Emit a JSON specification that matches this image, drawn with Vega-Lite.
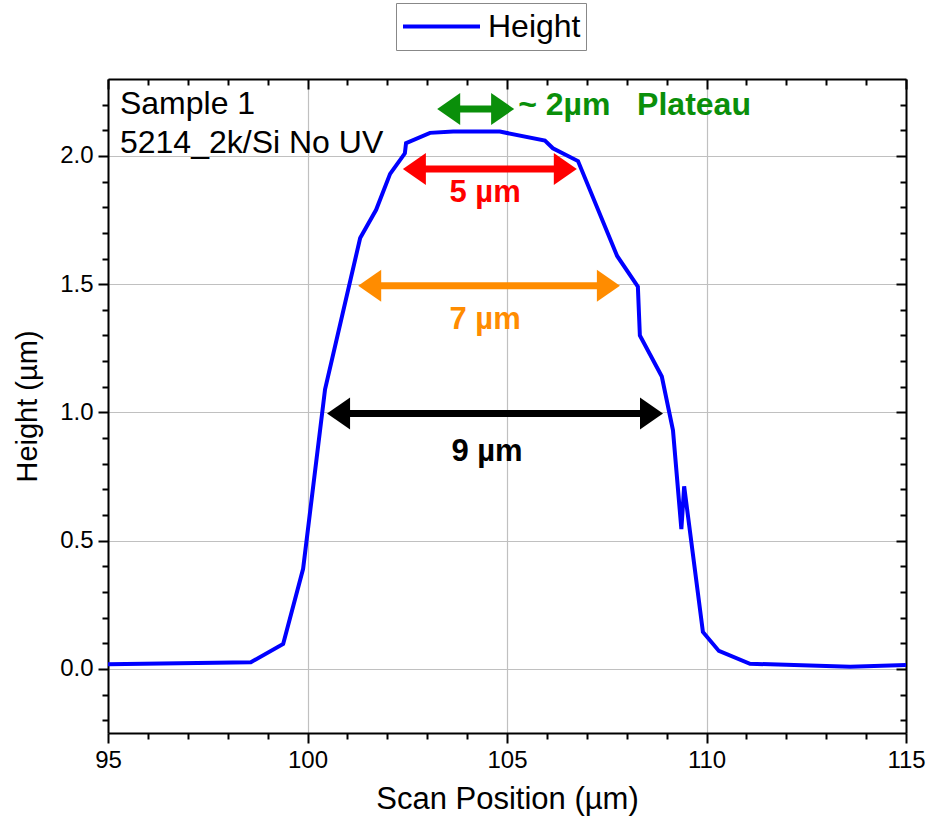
{
  "$schema": "https://vega.github.io/schema/vega-lite/v6.json",
  "width": 798,
  "height": 654,
  "autosize": {"type": "none"},
  "padding": {"left": 108, "top": 79, "right": 27, "bottom": 93},
  "config": {
    "view": {"stroke": null},
    "font": "Liberation Sans",
    "axis": {
      "domainColor": "black", "domainWidth": 2, "tickColor": "black", "tickWidth": 2,
      "labelColor": "black", "titleColor": "black", "labelFont": "Liberation Sans", "titleFont": "Liberation Sans",
      "gridColor": "#c0c0c0", "gridWidth": 1.2, "gridOpacity": 1, "labelFlush": false, "labelOverlap": false
    }
  },
  "datasets": {
    "curve": [
      {"i": 1, "x": 95, "y": 0.018, "series": "Height"},
      {"i": 2, "x": 98.58, "y": 0.026, "series": "Height"},
      {"i": 3, "x": 99.39, "y": 0.097, "series": "Height"},
      {"i": 4, "x": 99.89, "y": 0.39, "series": "Height"},
      {"i": 5, "x": 100.44, "y": 1.09, "series": "Height"},
      {"i": 6, "x": 101.32, "y": 1.68, "series": "Height"},
      {"i": 7, "x": 101.72, "y": 1.79, "series": "Height"},
      {"i": 8, "x": 102.07, "y": 1.93, "series": "Height"},
      {"i": 9, "x": 102.44, "y": 2.01, "series": "Height"},
      {"i": 10, "x": 102.47, "y": 2.05, "series": "Height"},
      {"i": 11, "x": 103.07, "y": 2.09, "series": "Height"},
      {"i": 12, "x": 103.65, "y": 2.095, "series": "Height"},
      {"i": 13, "x": 104.82, "y": 2.095, "series": "Height"},
      {"i": 14, "x": 105.95, "y": 2.06, "series": "Height"},
      {"i": 15, "x": 106.15, "y": 2.03, "series": "Height"},
      {"i": 16, "x": 106.78, "y": 1.98, "series": "Height"},
      {"i": 17, "x": 107.76, "y": 1.61, "series": "Height"},
      {"i": 18, "x": 108.28, "y": 1.49, "series": "Height"},
      {"i": 19, "x": 108.33, "y": 1.3, "series": "Height"},
      {"i": 20, "x": 108.88, "y": 1.14, "series": "Height"},
      {"i": 21, "x": 109.16, "y": 0.93, "series": "Height"},
      {"i": 22, "x": 109.37, "y": 0.545, "series": "Height"},
      {"i": 23, "x": 109.44, "y": 0.712, "series": "Height"},
      {"i": 24, "x": 109.91, "y": 0.144, "series": "Height"},
      {"i": 25, "x": 110.31, "y": 0.07, "series": "Height"},
      {"i": 26, "x": 111.09, "y": 0.02, "series": "Height"},
      {"i": 27, "x": 113.6, "y": 0.008, "series": "Height"},
      {"i": 28, "x": 115, "y": 0.015, "series": "Height"}
    ],
    "arrows": [
      {"x1": 103.25, "x2": 105.18, "s1": 103.7, "s2": 104.73, "y": 2.183, "col": "#0a8f0a"},
      {"x1": 102.39, "x2": 106.75, "s1": 102.84, "s2": 106.3, "y": 1.949, "col": "#ff0000"},
      {"x1": 101.27, "x2": 107.83, "s1": 101.72, "s2": 107.38, "y": 1.494, "col": "#ff8c00"},
      {"x1": 100.49, "x2": 108.91, "s1": 100.94, "s2": 108.46, "y": 0.996, "col": "#000000"}
    ],
    "notes": [
      {"x": 95.3, "y": 2.202, "t": "Sample 1"},
      {"x": 95.3, "y": 2.05, "t": "5214_2k/Si No UV"}
    ],
    "widths": [
      {"x": 104.45, "y": 1.856, "t": "5 µm", "col": "#ff0000"},
      {"x": 104.45, "y": 1.362, "t": "7 µm", "col": "#ff8c00"},
      {"x": 104.5, "y": 0.844, "t": "9 µm", "col": "#000000"}
    ],
    "plateau": [
      {"x": 105.28, "y": 2.198, "t": "~ 2µm\u00a0\u00a0 Plateau"}
    ]
  },
  "resolve": {"axis": {"x": "independent", "y": "independent"}},
  "layer": [
    {
      "data": {"name": "curve"},
      "mark": {"type": "line", "strokeWidth": 4, "clip": true},
      "encoding": {
        "x": {"field": "x", "type": "quantitative", "scale": {"domain": [95, 115], "nice": false, "zero": false},
          "axis": {"orient": "bottom", "values": [95, 100, 105, 110, 115], "tickSize": 10, "labelFontSize": 24, "labelPadding": 5,
            "title": "Scan Position (µm)", "titleFontSize": 31, "titleFontWeight": "normal", "titlePadding": 12, "grid": true}},
        "y": {"field": "y", "type": "quantitative", "scale": {"domain": [-0.25, 2.3], "nice": false, "zero": false},
          "axis": {"orient": "left", "values": [0, 0.5, 1, 1.5, 2], "format": ".1f", "tickSize": 10, "labelFontSize": 24, "labelPadding": 5,
            "title": "Height (µm)", "titleFontSize": 29, "titleFontWeight": "normal", "titlePadding": 17, "grid": true}},
        "order": {"field": "i", "type": "quantitative"},
        "color": {"field": "series", "type": "nominal", "scale": {"range": ["#0000ff"]},
          "legend": {"orient": "none", "legendX": 288, "legendY": -76, "title": null, "symbolType": "stroke", "symbolSize": 5929,
            "symbolStrokeWidth": 4, "labelFontSize": 32, "labelColor": "black", "strokeColor": "#888888", "padding": 5,
            "labelOffset": 6, "clipHeight": 37}}
      }
    },
    {
      "data": {"name": "arrows"},
      "mark": {"type": "rule", "strokeWidth": 7},
      "encoding": {
        "x": {"field": "s1", "type": "quantitative", "scale": {"domain": [95, 115], "nice": false, "zero": false},
          "axis": {"orient": "bottom", "values": [96, 97, 98, 99, 101, 102, 103, 104, 106, 107, 108, 109, 111, 112, 113, 114], "tickSize": 6, "labels": false, "title": null, "grid": false, "domain": false}},
        "x2": {"field": "s2"},
        "y": {"field": "y", "type": "quantitative", "scale": {"domain": [-0.25, 2.3], "nice": false, "zero": false},
          "axis": {"orient": "left", "values": [-0.2, -0.1, 0.1, 0.2, 0.3, 0.4, 0.6, 0.7, 0.8, 0.9, 1.1, 1.2, 1.3, 1.4, 1.6, 1.7, 1.8, 1.9, 2.1, 2.2], "tickSize": 6, "labels": false, "title": null, "grid": false, "domain": false}},
        "color": {"field": "col", "type": "nominal", "scale": null}
      }
    },
    {
      "data": {"name": "arrows"},
      "mark": {"type": "point", "filled": true, "opacity": 1, "size": 1024, "shape": "M 0 0 L -1.44 -1 L -1.44 1 Z"},
      "encoding": {
        "x": {"field": "x2", "type": "quantitative", "scale": {"domain": [95, 115], "nice": false, "zero": false},
          "axis": {"orient": "top", "values": [95, 100, 105, 110, 115], "tickSize": -10, "labels": false, "title": null, "grid": false}},
        "y": {"field": "y", "type": "quantitative", "scale": {"domain": [-0.25, 2.3], "nice": false, "zero": false},
          "axis": {"orient": "right", "values": [0, 0.5, 1, 1.5, 2], "tickSize": -10, "labels": false, "title": null, "grid": false}},
        "color": {"field": "col", "type": "nominal", "scale": null}
      }
    },
    {
      "data": {"name": "arrows"},
      "mark": {"type": "point", "filled": true, "opacity": 1, "size": 1024, "shape": "M 0 0 L 1.44 -1 L 1.44 1 Z"},
      "encoding": {
        "x": {"field": "x1", "type": "quantitative", "scale": {"domain": [95, 115], "nice": false, "zero": false},
          "axis": {"orient": "top", "values": [96, 97, 98, 99, 101, 102, 103, 104, 106, 107, 108, 109, 111, 112, 113, 114], "tickSize": -6, "labels": false, "title": null, "grid": false, "domain": false}},
        "y": {"field": "y", "type": "quantitative", "scale": {"domain": [-0.25, 2.3], "nice": false, "zero": false},
          "axis": {"orient": "right", "values": [-0.2, -0.1, 0.1, 0.2, 0.3, 0.4, 0.6, 0.7, 0.8, 0.9, 1.1, 1.2, 1.3, 1.4, 1.6, 1.7, 1.8, 1.9, 2.1, 2.2], "tickSize": -6, "labels": false, "title": null, "grid": false, "domain": false}},
        "color": {"field": "col", "type": "nominal", "scale": null}
      }
    },
    {
      "data": {"name": "notes"},
      "mark": {"type": "text", "fontSize": 32, "baseline": "middle", "align": "left", "color": "black", "font": "Liberation Sans"},
      "encoding": {
        "x": {"field": "x", "type": "quantitative", "scale": {"domain": [95, 115], "nice": false, "zero": false}, "axis": null},
        "y": {"field": "y", "type": "quantitative", "scale": {"domain": [-0.25, 2.3], "nice": false, "zero": false}, "axis": null},
        "text": {"field": "t"}
      }
    },
    {
      "data": {"name": "widths"},
      "mark": {"type": "text", "fontSize": 31, "fontWeight": "bold", "baseline": "middle", "align": "center", "font": "Liberation Sans"},
      "encoding": {
        "x": {"field": "x", "type": "quantitative", "scale": {"domain": [95, 115], "nice": false, "zero": false}, "axis": null},
        "y": {"field": "y", "type": "quantitative", "scale": {"domain": [-0.25, 2.3], "nice": false, "zero": false}, "axis": null},
        "text": {"field": "t"},
        "color": {"field": "col", "type": "nominal", "scale": null}
      }
    },
    {
      "data": {"name": "plateau"},
      "mark": {"type": "text", "fontSize": 32, "fontWeight": "bold", "baseline": "middle", "align": "left", "color": "#0a8f0a", "font": "Liberation Sans"},
      "encoding": {
        "x": {"field": "x", "type": "quantitative", "scale": {"domain": [95, 115], "nice": false, "zero": false}, "axis": null},
        "y": {"field": "y", "type": "quantitative", "scale": {"domain": [-0.25, 2.3], "nice": false, "zero": false}, "axis": null},
        "text": {"field": "t"}
      }
    }
  ]
}
